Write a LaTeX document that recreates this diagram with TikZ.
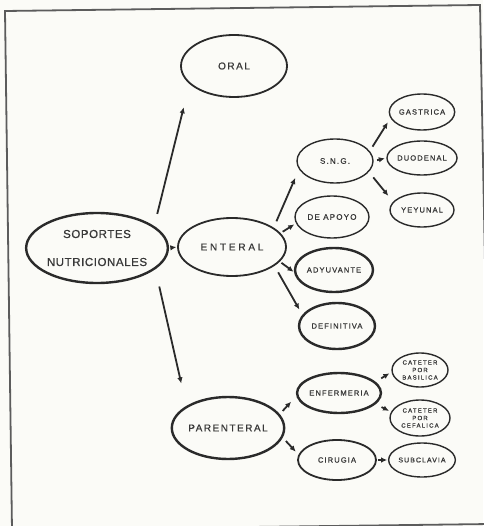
\documentclass[tikz,border=0pt]{standalone}
\usepackage{fontspec}
\setsansfont{Liberation Sans}
\newfontfamily\rotulo[LetterSpace=15,FakeBold=0.8]{Liberation Sans}
\usetikzlibrary{shapes.geometric,arrows.meta}
\definecolor{tinta}{HTML}{2A2A2A}
\definecolor{letra}{HTML}{383838}
\definecolor{papel}{HTML}{FBFBF7}
\definecolor{marco}{HTML}{5C5C5C}

\begin{document}
\begin{tikzpicture}[x=1pt,y=-1pt,
    globo/.style={ellipse,draw=tinta,line width=1.4pt,inner sep=0pt,text=letra,align=center,
      font=\rotulo\fontsize{7.5}{8}\selectfont},
    grueso/.style={line width=2.4pt},
    medio/.style={line width=1.8pt},
    flecha/.style={draw=tinta,line width=1.8pt,-{Latex[length=6pt,width=5.5pt]}}]
  \useasboundingbox (0,0) rectangle (483,526);

  % Papel y marco
  \fill[papel] (0,0) rectangle (483,526);
  \draw[marco,line width=1.8pt] (5,11) -- (480,5) -- (490,524) -- (12,530) -- cycle;

  % Nivel 1
  \node[globo,grueso,minimum width=134pt,minimum height=70pt,
    font=\rotulo\fontsize{11.5}{28}\selectfont\addfontfeature{LetterSpace=5}] (sop) at (97,248) {SOPORTES\\NUTRICIONALES};

  % Nivel 2
  \node[globo,medio,minimum width=106pt,minimum height=62pt,
    font=\rotulo\fontsize{10}{11}\selectfont] (oral) at (234,66) {ORAL};
  \node[globo,medio,minimum width=108pt,minimum height=58pt,
    font=\rotulo\fontsize{10}{11}\selectfont\addfontfeature{LetterSpace=28}] (ent) at (232,247) {ENTERAL};
  \node[globo,grueso,minimum width=104pt,minimum height=62pt,
    font=\rotulo\fontsize{10}{11}\selectfont] (par) at (228,428) {PARENTERAL};

  % Nivel 3
  \node[globo,minimum width=76pt,minimum height=44pt,font=\rotulo\fontsize{8}{8}\selectfont] (sng) at (335,161) {S.N.G.};
  \node[globo,minimum width=74pt,minimum height=42pt,font=\rotulo\fontsize{8}{8}\selectfont] (apoyo) at (332,217) {DE APOYO};
  \node[globo,grueso,minimum width=78pt,minimum height=44pt] (ady) at (334,270) {ADYUVANTE};
  \node[globo,grueso,minimum width=76pt,minimum height=46pt] (defi) at (337,326) {DEFINITIVA};
  \node[globo,grueso,minimum width=74pt,minimum height=40pt] (enf) at (339,393) {ENFERMERIA};
  \node[globo,medio,minimum width=78pt,minimum height=40pt] (cir) at (337,460) {CIRUGIA};

  % Nivel 4
  \node[globo,minimum width=64pt,minimum height=36pt] (gas) at (422,112) {GASTRICA};
  \node[globo,minimum width=64pt,minimum height=34pt] (duo) at (422,158) {DUODENAL};
  \node[globo,minimum width=64pt,minimum height=34pt] (yey) at (422,210) {YEYUNAL};
  \node[globo,minimum width=56pt,minimum height=34pt,
    font=\rotulo\fontsize{6}{7.5}\selectfont\addfontfeature{LetterSpace=20}] (cbas) at (420,370) {CATETER\\POR\\BASILICA};
  \node[globo,minimum width=60pt,minimum height=36pt,
    font=\rotulo\fontsize{6}{7.5}\selectfont\addfontfeature{LetterSpace=20}] (ccef) at (420,418) {CATETER\\POR\\CEFALICA};
  \node[globo,minimum width=64pt,minimum height=34pt,font=\rotulo\fontsize{7}{8}\selectfont] (sub) at (422,460) {SUBCLAVIA};

  % Flechas: origen/destino/recorte inicial/recorte final
  \foreach \a/\b/\ini/\fin in {sop.21/oral.202/12.5/24, sop.340/par.152/17.7/23, sop.east/ent.west/2.5/0.8,
      ent.25/sng.193/6.8/9.5, ent.16/apoyo.190/2.5/2, ent.343/ady.183/2/0.5, ent.336/defi.162/7.4/6,
      sng.16/gas.191/5.2/5, sng.east/duo.west/3.5/1.5, sng.342/yey.164/7/7.6,
      par.15/enf.184/4.3/7.7, par.350/cir.172/4.6/4,
      enf.17/cbas.184/6.6/2.5, enf.343/ccef.168/6.6/2.2, cir.east/sub.west/1.5/0.8} {
    \draw[flecha,shorten <=\ini pt,shorten >=\fin pt] (\a) -- (\b);
  }
\end{tikzpicture}
\end{document}
